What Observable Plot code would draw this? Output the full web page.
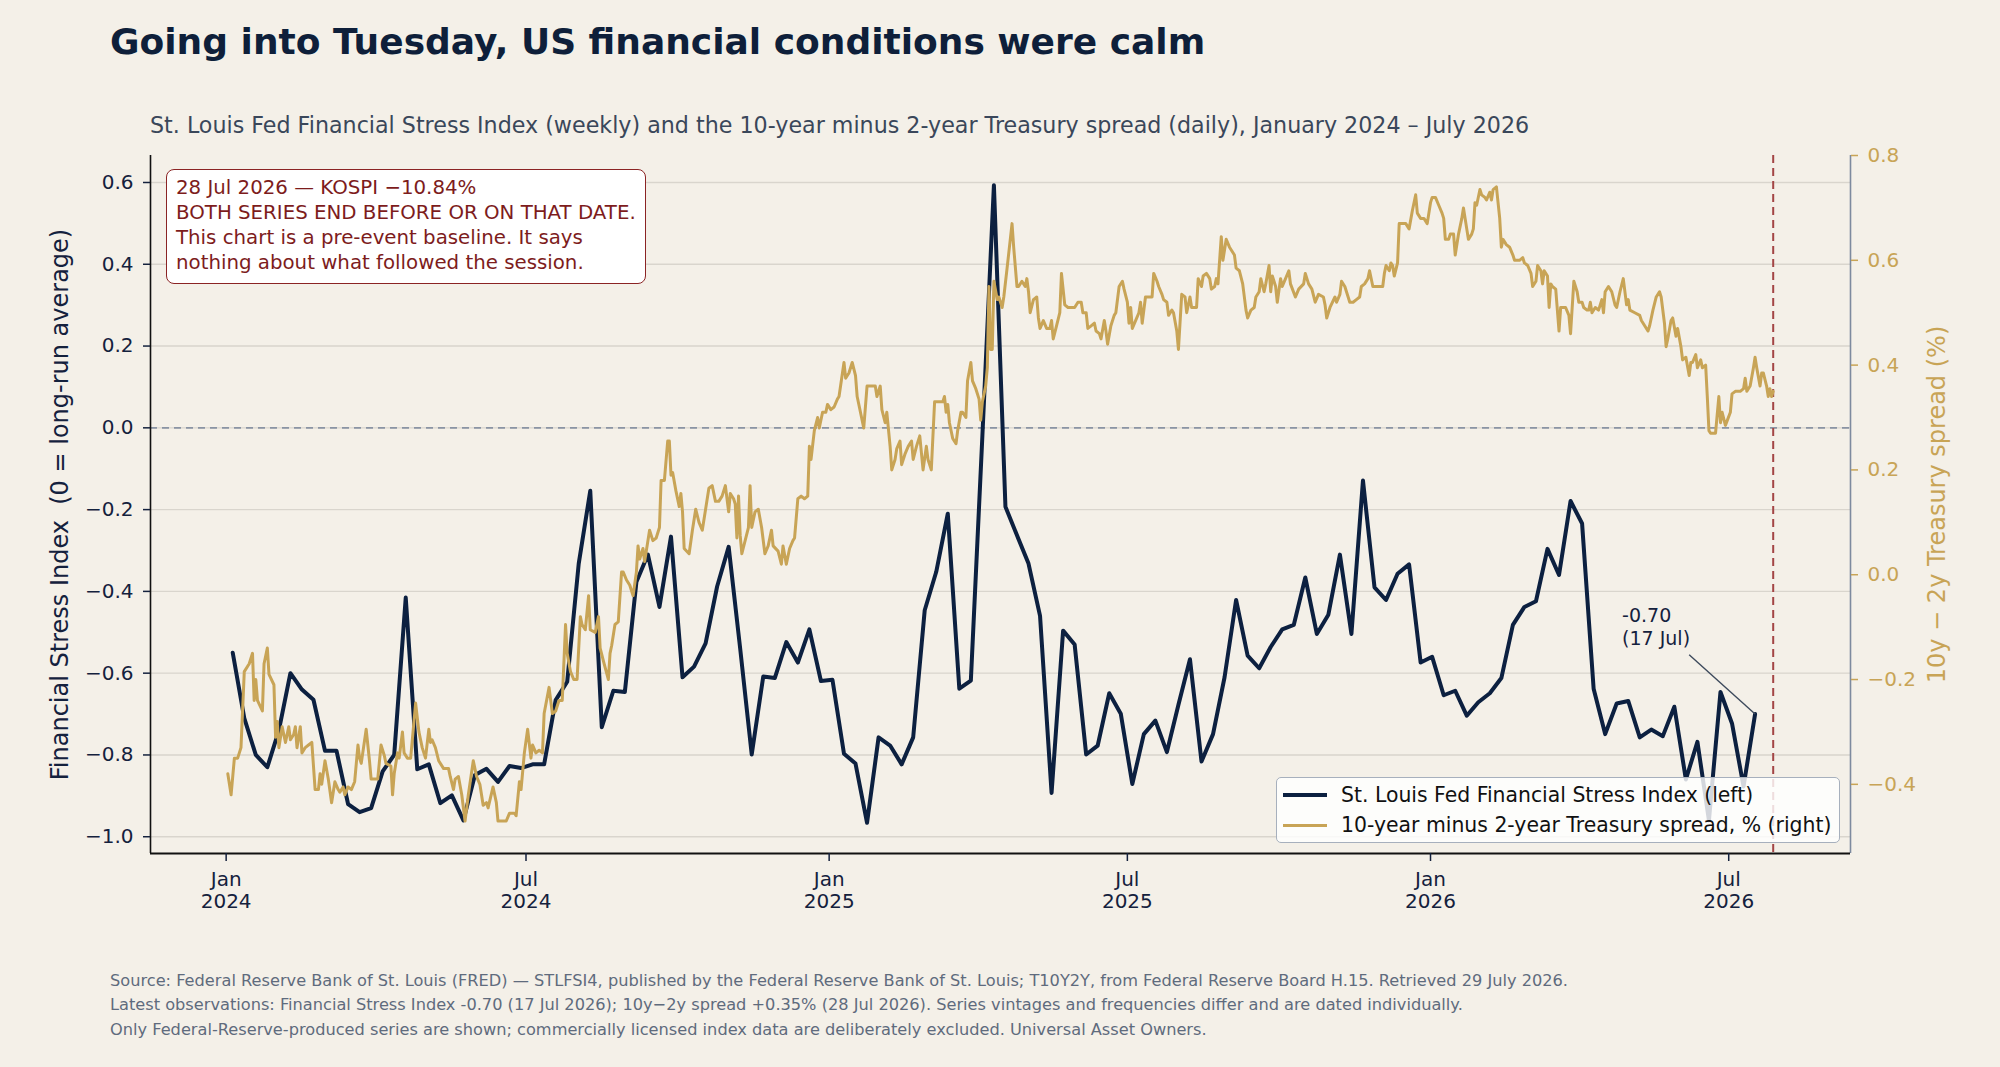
<!DOCTYPE html>
<html>
<head>
<meta charset="utf-8">
<script src="https://cdn.jsdelivr.net/npm/d3@7"></script>
<script src="https://cdn.jsdelivr.net/npm/@observablehq/plot@0.6"></script>
<style>
  html, body { margin: 0; padding: 0; background: #f4f0e8; }
  #page { position: relative; width: 2000px; height: 1067px; background: #f4f0e8; font-family: "DejaVu Sans", sans-serif; overflow: hidden; }
  #title { position: absolute; left: 110px; top: 24px; font-size: 36px; line-height: 36px; font-weight: bold; color: #0e1f3a; white-space: nowrap; }
  #subtitle { position: absolute; left: 150px; top: 114px; font-size: 22.2px; line-height: 22px; color: #3a475a; white-space: nowrap; }
  #chart { position: absolute; left: 0; top: 140px; }
  #note { position: absolute; left: 166px; top: 169px; width: 480px; height: 115px; box-sizing: border-box;
          border: 1.5px solid #8b2424; border-radius: 8px; background: #ffffff; padding: 4.5px 0 0 9px;
          font-size: 19.8px; line-height: 25px; color: #7d1c1c; white-space: nowrap; }
  #legend { position: absolute; left: 1276px; top: 777px; width: 564px; height: 66px; box-sizing: border-box;
            border: 1.5px solid #a7b0bd; border-radius: 5px; background: rgba(255,255,255,0.82); }
  .row { position: absolute; left: 0; height: 30px; display: flex; align-items: center; font-size: 20.4px; color: #111; white-space: nowrap; }
  .sw { width: 44px; margin-left: 6px; margin-right: 14px; }
  #footer { position: absolute; left: 110px; top: 969px; font-size: 16.2px; line-height: 24.3px; color: #5f6b7d; white-space: nowrap; }
</style>
</head>
<body>
<div id="page">
  <div id="title"></div>
  <div id="subtitle"></div>
  <div id="chart"></div>
  <div id="note"></div>
  <div id="legend"></div>
  <div id="footer"></div>
</div>
<script>
// ---------------- data ----------------
const titleText = "Going into Tuesday, US financial conditions were calm";
const subtitleText = "St. Louis Fed Financial Stress Index (weekly) and the 10-year minus 2-year Treasury spread (daily), January 2024 \u2013 July 2026";
const noteLines = [
  "28 Jul 2026 \u2014 KOSPI \u221210.84%",
  "BOTH SERIES END BEFORE OR ON THAT DATE.",
  "This chart is a pre-event baseline. It says",
  "nothing about what followed the session."
];
const footerLines = [
  "Source: Federal Reserve Bank of St. Louis (FRED) \u2014 STLFSI4, published by the Federal Reserve Bank of St. Louis; T10Y2Y, from Federal Reserve Board H.15. Retrieved 29 July 2026.",
  "Latest observations: Financial Stress Index -0.70 (17 Jul 2026); 10y\u22122y spread +0.35% (28 Jul 2026). Series vintages and frequencies differ and are dated individually.",
  "Only Federal-Reserve-produced series are shown; commercially licensed index data are deliberately excluded. Universal Asset Owners."
];
const seriesNames = ["St. Louis Fed Financial Stress Index (left)", "10-year minus 2-year Treasury spread, % (right)"];
const leftLabel = "Financial Stress Index\u00a0 (0 = long-run average)";
const rightLabel = "10y \u2212 2y Treasury spread (%)";

// Weekly STLFSI4, Fridays from 2024-01-05 to 2026-07-17
const fsiFirst = "2024-01-05";
const fsiLast = "2026-07-17";
const fsiValues = [
  -0.55,-0.71,-0.80,-0.83,-0.74,-0.60,-0.64,-0.665,-0.79,-0.79,
  -0.92,-0.94,-0.93,-0.84,-0.80,-0.415,-0.835,-0.823,-0.918,-0.899,
  -0.96,-0.849,-0.834,-0.866,-0.827,-0.832,-0.823,-0.823,-0.666,-0.621,
  -0.332,-0.154,-0.732,-0.643,-0.646,-0.377,-0.31,-0.438,-0.266,-0.61,
  -0.584,-0.527,-0.388,-0.291,-0.54,-0.799,-0.608,-0.612,-0.524,-0.574,
  -0.493,-0.619,-0.616,-0.797,-0.821,-0.966,-0.757,-0.777,-0.823,-0.757,
  -0.446,-0.352,-0.21,-0.638,-0.618,-0.02,0.593,-0.193,-0.263,-0.332,
  -0.46,-0.893,-0.496,-0.53,-0.799,-0.777,-0.649,-0.699,-0.871,-0.749,
  -0.716,-0.793,-0.677,-0.566,-0.816,-0.749,-0.61,-0.421,-0.557,-0.588,
  -0.536,-0.493,-0.482,-0.366,-0.504,-0.457,-0.31,-0.504,-0.129,-0.39,
  -0.421,-0.357,-0.334,-0.574,-0.56,-0.654,-0.643,-0.704,-0.671,-0.649,
  -0.612,-0.482,-0.438,-0.424,-0.296,-0.36,-0.179,-0.234,-0.638,-0.749,
  -0.674,-0.668,-0.757,-0.738,-0.754,-0.682,-0.86,-0.768,-0.96,-0.646,
  -0.723,-0.877,-0.70
];

// Daily T10Y2Y readings: [days since 2024-01-01, spread %]
const spreadBase = "2024-01-01";
const spreadReadings = [
 [1,-0.38],[3,-0.42],[5,-0.35],[7,-0.35],[9,-0.33],[11,-0.185],[14,-0.17],[16,-0.15],[17,-0.24],[18,-0.20],[19,-0.24],[22,-0.26],[23,-0.17],[25,-0.14],[26,-0.19],[29,-0.21],[30,-0.31],[31,-0.28],[32,-0.33],[34,-0.29],[36,-0.32],[38,-0.29],[39,-0.315],[41,-0.305],[42,-0.29],[43,-0.33],[45,-0.29],[46,-0.34],[48,-0.33],[50,-0.325],[52,-0.32],[54,-0.41],[56,-0.41],[57,-0.38],[58,-0.40],[60,-0.355],[62,-0.39],[64,-0.435],[66,-0.395],[68,-0.41],[69,-0.415],[71,-0.405],[72,-0.42],[74,-0.405],[76,-0.41],[78,-0.395],[80,-0.325],[81,-0.35],[82,-0.36],[85,-0.295],[87,-0.355],[88,-0.39],[90,-0.39],[92,-0.39],[94,-0.325],[96,-0.345],[97,-0.36],[100,-0.365],[101,-0.42],[102,-0.38],[104,-0.34],[105,-0.35],[107,-0.30],[108,-0.34],[110,-0.35],[112,-0.35],[115,-0.245],[117,-0.30],[119,-0.33],[121,-0.35],[123,-0.295],[124,-0.32],
 [125,-0.315],[127,-0.33],[129,-0.355],[132,-0.37],[135,-0.37],[136,-0.385],[138,-0.41],[139,-0.39],[141,-0.385],[143,-0.42],[145,-0.47],[147,-0.42],[150,-0.355],[152,-0.385],[154,-0.40],[156,-0.44],[158,-0.435],[159,-0.445],[162,-0.405],[164,-0.435],[165,-0.47],[168,-0.47],[170,-0.47],[172,-0.455],[175,-0.455],[176,-0.46],[178,-0.395],[179,-0.41],[181,-0.34],[183,-0.295],[185,-0.35],[186,-0.325],[188,-0.34],[190,-0.335],[192,-0.34],[193,-0.265],[196,-0.215],[198,-0.265],[200,-0.26],[202,-0.24],[204,-0.24],[206,-0.095],[207,-0.15],[209,-0.185],[211,-0.20],[213,-0.20],[215,-0.08],[216,-0.095],[218,-0.105],[220,-0.04],[221,-0.105],[224,-0.11],[226,-0.08],[227,-0.14],[229,-0.165],[232,-0.20],[233,-0.15],[234,-0.135],[236,-0.095],[238,-0.09],[240,0.005],[241,0.005],[243,-0.01],[245,-0.02],[247,-0.04],[249,0.005],[250,0.055],[251,0.03],[253,0.05],[254,0.025],[257,0.085],[259,0.065],[261,0.07],[263,0.09],[264,0.18],[266,0.18],[268,0.255],[269,0.255],[270,0.19],[271,0.195],[273,0.16],[275,0.13],[276,0.155],[277,0.12],[278,0.05],[281,0.04],[283,0.085],[285,0.125],[287,0.10],[289,0.085],[291,0.125],[293,0.165],[295,0.17],
 [297,0.14],[299,0.14],[301,0.15],[303,0.17],[305,0.12],[306,0.155],[308,0.145],[309,0.135],[310,0.07],[311,0.15],[312,0.075],[313,0.04],[315,0.065],[317,0.09],[318,0.17],[319,0.09],[321,0.12],[323,0.125],[325,0.09],[327,0.04],[329,0.055],[331,0.085],[332,0.055],[335,0.045],[337,0.02],[338,0.055],[340,0.02],[342,0.05],[344,0.065],[345,0.07],[347,0.145],[349,0.15],[351,0.145],[353,0.15],[354,0.245],[355,0.22],[357,0.275],[359,0.30],[360,0.28],[362,0.31],[364,0.31],[365,0.325],[367,0.315],[369,0.32],[371,0.335],[372,0.34],[375,0.405],[376,0.375],[378,0.385],[380,0.405],[382,0.38],[383,0.34],[385,0.31],[387,0.28],[389,0.36],[391,0.36],[394,0.36],[395,0.34],[397,0.36],[398,0.315],[400,0.29],[401,0.31],[403,0.245],[404,0.20],[406,0.22],[407,0.24],[409,0.255],[410,0.21],[412,0.23],[414,0.245],[416,0.255],[417,0.22],[419,0.245],[421,0.265],[423,0.20],[425,0.245],[426,0.22],[428,0.20],[430,0.33],[432,0.33],[435,0.33],[436,0.34],[437,0.31],[438,0.325],[439,0.29],[441,0.26],[443,0.25],[444,0.275],[446,0.31],[447,0.31],[449,0.30],[450,0.37],[452,0.405],[453,0.37],[455,0.355],[457,0.335],[458,0.295],[459,0.33],[461,0.36],[462,0.395],[463,0.55],[464,0.43],
 [465,0.43],[466,0.56],[468,0.525],[469,0.53],[471,0.51],[472,0.53],[474,0.585],[477,0.67],[478,0.625],[480,0.55],[481,0.55],[483,0.56],[485,0.55],[486,0.565],[487,0.54],[488,0.50],[490,0.525],[492,0.53],[493,0.49],[494,0.47],[496,0.485],[498,0.47],[500,0.47],[501,0.485],[502,0.45],[504,0.475],[506,0.50],[507,0.575],[509,0.515],[511,0.51],[515,0.51],[517,0.52],[519,0.52],[520,0.50],[522,0.50],[523,0.47],[525,0.475],[527,0.48],[528,0.465],[530,0.46],[531,0.45],[533,0.485],[534,0.465],[535,0.44],[537,0.475],[539,0.495],[540,0.50],[542,0.55],[544,0.56],[545,0.545],[547,0.52],[548,0.48],[549,0.51],[550,0.47],[552,0.485],[554,0.50],[555,0.52],[556,0.48],[558,0.53],[560,0.53],[562,0.53],[563,0.575],[565,0.56],[566,0.55],[568,0.535],[569,0.525],[571,0.52],[572,0.495],[574,0.505],[575,0.50],[577,0.465],[578,0.43],[580,0.535],[582,0.53],[583,0.50],[585,0.53],[586,0.51],[589,0.51],[590,0.565],[592,0.55],[593,0.57],[595,0.575],[597,0.565],[598,0.545],[600,0.55],[601,0.565],[602,0.555],[604,0.645],[605,0.60],[607,0.64],[609,0.625],[612,0.61],[613,0.585],[615,0.58],[617,0.555],[619,0.505],[620,0.49],[622,0.505],[624,0.51],[625,0.53],[627,0.54],[628,0.565],[630,0.54],[631,0.555],[633,0.59],[634,0.54],
 [635,0.57],[637,0.55],[638,0.52],[640,0.565],[641,0.55],[643,0.565],[645,0.58],[646,0.555],[649,0.53],[651,0.545],[654,0.555],[655,0.575],[657,0.555],[659,0.545],[661,0.52],[663,0.535],[666,0.53],[667,0.515],[668,0.49],[670,0.51],[673,0.53],[674,0.52],[676,0.535],[677,0.56],[679,0.55],[681,0.53],[682,0.52],[684,0.52],[686,0.525],[688,0.53],[689,0.55],[691,0.555],[693,0.565],[694,0.58],[696,0.55],[700,0.55],[702,0.55],[703,0.575],[704,0.59],[706,0.58],[707,0.595],[708,0.59],[709,0.57],[711,0.595],[712,0.67],[714,0.67],[716,0.67],[718,0.66],[720,0.695],[722,0.725],[723,0.69],[725,0.68],[727,0.68],[729,0.67],[731,0.71],[732,0.72],[734,0.72],[736,0.705],[738,0.69],[739,0.68],[740,0.64],[742,0.64],[743,0.65],[745,0.65],[746,0.61],[748,0.65],[750,0.68],[751,0.70],[753,0.66],[754,0.64],[756,0.65],[757,0.66],[758,0.71],[759,0.705],[761,0.735],[762,0.725],[764,0.72],[765,0.715],[767,0.73],[768,0.715],[769,0.735],[771,0.74],[773,0.68],[774,0.625],[775,0.64],[777,0.63],[779,0.625],[781,0.61],[782,0.60],[785,0.60],[787,0.605],[788,0.595],[790,0.59],[792,0.575],[793,0.55],[795,0.56],[796,0.59],[798,0.58],[799,0.555],[800,0.58],[802,0.57],[803,0.51],[804,0.555],[805,0.55],
 [807,0.545],[808,0.505],[809,0.465],[810,0.51],[813,0.51],[815,0.495],[816,0.46],[818,0.56],[820,0.54],[821,0.52],[823,0.52],[824,0.51],[826,0.505],[827,0.505],[828,0.52],[829,0.50],[831,0.51],[833,0.505],[835,0.525],[836,0.50],[837,0.54],[839,0.55],[841,0.54],[843,0.515],[844,0.51],[846,0.54],[848,0.565],[850,0.515],[851,0.525],[852,0.505],[855,0.50],[858,0.495],[859,0.485],[861,0.475],[863,0.465],[864,0.475],[866,0.505],[868,0.53],[870,0.54],[871,0.53],[873,0.48],[874,0.435],[875,0.45],[877,0.485],[878,0.49],[880,0.455],[881,0.47],[883,0.435],[884,0.41],[886,0.415],[888,0.38],[889,0.405],[890,0.405],[892,0.42],[893,0.395],[895,0.41],[896,0.395],[898,0.40],[899,0.34],[900,0.275],[901,0.27],[904,0.27],[906,0.34],[907,0.29],[908,0.31],[910,0.285],[913,0.31],[914,0.345],[916,0.35],[919,0.35],[921,0.355],[922,0.375],[923,0.35],[925,0.36],[927,0.395],[928,0.415],[929,0.395],[931,0.36],[932,0.385],[933,0.385],[935,0.36],[936,0.34],[937,0.355],[938,0.34],[939,0.35]
];

const eventDate = "2026-07-28";
const xTickDates = ["2024-01-01","2024-07-01","2025-01-01","2025-07-01","2026-01-01","2026-07-01"];
const leftTicks = [-1.0,-0.8,-0.6,-0.4,-0.2,0.0,0.2,0.4,0.6];
const rightTicks = [-0.4,-0.2,0.0,0.2,0.4,0.6,0.8];
const leftDomain = [-1.041, 0.666];
const rightDomain = [-0.532, 0.80];
const xDomain = ["2023-11-16T02:00Z", "2026-09-12T22:00Z"];

// ---------------- styles ----------------
const navy = "#0c2040";
const gold = "#c8a456";
const inkColor = "#14213d";

// ---------------- build ----------------
const fsiDates = d3.utcFriday.range(new Date(fsiFirst), d3.utcDay.offset(new Date(fsiLast), 1));
const fsi = fsiValues.map((v, i) => ({date: fsiDates[i], value: v}));
const base = new Date(spreadBase);
const spread = spreadReadings.map(([d, v]) => ({date: d3.utcDay.offset(base, d), value: v}));

const toLeft = s => leftDomain[0] + (s - rightDomain[0]) * (leftDomain[1] - leftDomain[0]) / (rightDomain[1] - rightDomain[0]);
const toRight = v => rightDomain[0] + (v - leftDomain[0]) * (rightDomain[1] - rightDomain[0]) / (leftDomain[1] - leftDomain[0]);
const fmt1 = v => { if (Math.abs(v) < 1e-9) return "0.0"; const s = v.toFixed(1); return s.replace("-", "\u2212"); };

const xD = xDomain.map(d => new Date(d));
const last = fsi[fsi.length - 1];

const chart = Plot.plot({
  width: 2000,
  height: 800,
  marginLeft: 150,
  marginRight: 150,
  marginTop: 15,
  marginBottom: 87,
  style: {background: "transparent", fontFamily: "DejaVu Sans", overflow: "visible"},
  x: {type: "utc", domain: xD},
  y: {domain: leftDomain, label: null},
  marks: [
    Plot.gridY(leftTicks, {stroke: "#d9d5cd", strokeOpacity: 1, strokeWidth: 1.4}),
    Plot.ruleY([0], {stroke: "#8a94a4", strokeWidth: 1.6, strokeDasharray: "7,5"}),
    Plot.ruleX([new Date(eventDate)], {stroke: "#a34545", strokeWidth: 2, strokeDasharray: "8,5"}),
    Plot.line(fsi, {x: "date", y: "value", stroke: navy, strokeWidth: 4, strokeLinejoin: "round"}),
    Plot.line(spread, {x: "date", y: d => toLeft(d.value), stroke: gold, strokeWidth: 3, strokeLinejoin: "round"}),
    Plot.ruleX([xD[1]], {stroke: "#7d8a9e", strokeWidth: 1.6}),
    Plot.ruleX([xD[0]], {stroke: "#111111", strokeWidth: 1.6}),
    Plot.ruleY([leftDomain[0]], {stroke: "#111111", strokeWidth: 2}),
    Plot.axisY(leftTicks, {anchor: "left", tickFormat: fmt1, tickSize: 7, tickPadding: 10, fontSize: 20, color: inkColor, strokeWidth: 1.5, label: null}),
    Plot.axisY(rightTicks.map(toLeft), {anchor: "right", tickFormat: d => fmt1(toRight(d)), tickSize: 7, tickPadding: 10, fontSize: 20, color: gold, strokeWidth: 1.5, label: null}),
    Plot.axisX(xTickDates.map(d => new Date(d)), {anchor: "bottom", tickFormat: d3.utcFormat("%b\n%Y"), tickSize: 8, tickPadding: 8, fontSize: 20, lineHeight: 1.13, color: inkColor, strokeWidth: 1.5, label: null}),
    Plot.text([leftLabel], {frameAnchor: "left", dx: -90, rotate: -90, textAnchor: "middle", lineAnchor: "middle", fontSize: 24, fill: inkColor}),
    Plot.text([rightLabel], {frameAnchor: "right", dx: 87, rotate: -90, textAnchor: "middle", lineAnchor: "middle", fontSize: 24, fill: gold}),
    Plot.link([last], {x1: d => d3.utcDay.offset(d.date, -40), y1: d => d.value + 0.145, x2: "date", y2: "value", stroke: "#3d4a5c", strokeWidth: 1.4}),
    Plot.text([last], {x: "date", y: "value", text: d => `${d.value.toFixed(2)}\n(${d3.utcFormat("%-d %b")(d.date)})`, dx: -133, dy: -88, textAnchor: "start", lineAnchor: "middle", lineHeight: 1.2, fontSize: 19, fill: inkColor})
  ]
});
document.getElementById("chart").appendChild(chart);

document.getElementById("title").textContent = titleText;
document.getElementById("subtitle").textContent = subtitleText;
document.getElementById("note").innerHTML = noteLines.map(l => `<div>${l}</div>`).join("");
document.getElementById("footer").innerHTML = footerLines.map(l => `<div>${l}</div>`).join("");
const legend = document.getElementById("legend");
[[seriesNames[0], navy, 4.5, 2], [seriesNames[1], gold, 3, 32]].forEach(([name, col, w, top]) => {
  const row = document.createElement("div");
  row.className = "row";
  row.style.top = top + "px";
  row.innerHTML = `<div class="sw" style="height:${w}px;background:${col}"></div><span>${name}</span>`;
  legend.appendChild(row);
});
</script>
</body>
</html>
